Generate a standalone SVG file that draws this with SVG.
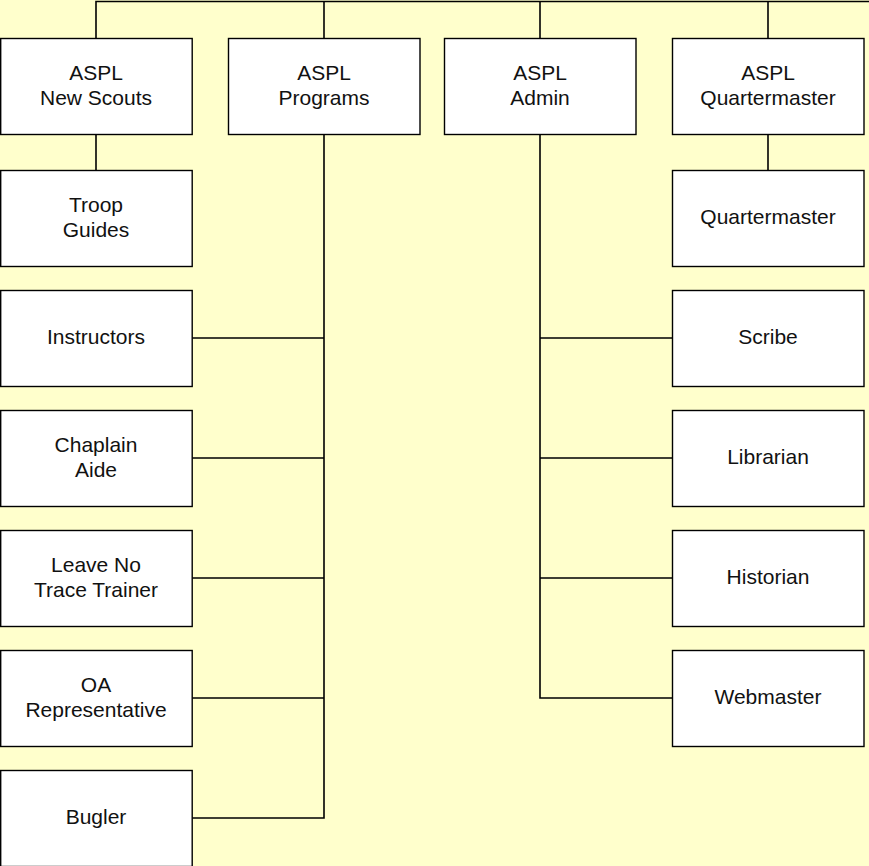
<svg xmlns="http://www.w3.org/2000/svg" width="869" height="866" viewBox="0 0 869 866">
<style>
.bg{fill:#FFFFCC}
.box{fill:#FFFFFF;stroke:#000;stroke-width:1.4}
.ln{fill:none;stroke:#000;stroke-width:1.6}
text{font-family:"Liberation Sans",Arial,sans-serif;font-size:21px;fill:#111;text-anchor:middle}
</style>
<rect class="bg" x="0" y="0" width="869" height="866"/>
<g id="connectors">
<path class="ln" d="M96,38 V1.5 H869"/>
<path class="ln" d="M324,38 V1.5"/>
<path class="ln" d="M540,38 V1.5"/>
<path class="ln" d="M768,38 V1.5"/>
<path class="ln" d="M96,134 V170"/>
<path class="ln" d="M768,134 V170"/>
<path class="ln" d="M324,134 V818 H192"/>
<path class="ln" d="M192,338 H324 M192,458 H324 M192,578 H324 M192,698 H324"/>
<path class="ln" d="M540,134 V698 H672"/>
<path class="ln" d="M540,338 H672 M540,458 H672 M540,578 H672"/>
</g>
<g id="aspl-new-scouts"><rect class="box" x="0.7" y="38.5" width="191.5" height="96"/><text x="96" y="80">ASPL</text><text x="96" y="105">New Scouts</text></g>
<g id="aspl-programs"><rect class="box" x="228.5" y="38.5" width="191.5" height="96"/><text x="324" y="80">ASPL</text><text x="324" y="105">Programs</text></g>
<g id="aspl-admin"><rect class="box" x="444.5" y="38.5" width="191.5" height="96"/><text x="540" y="80">ASPL</text><text x="540" y="105">Admin</text></g>
<g id="aspl-quartermaster"><rect class="box" x="672.5" y="38.5" width="191.5" height="96"/><text x="768" y="80">ASPL</text><text x="768" y="105">Quartermaster</text></g>
<g id="troop-guides"><rect class="box" x="0.7" y="170.5" width="191.5" height="96"/><text x="96" y="212">Troop</text><text x="96" y="237">Guides</text></g>
<g id="instructors"><rect class="box" x="0.7" y="290.5" width="191.5" height="96"/><text x="96" y="344">Instructors</text></g>
<g id="chaplain-aide"><rect class="box" x="0.7" y="410.5" width="191.5" height="96"/><text x="96" y="452">Chaplain</text><text x="96" y="477">Aide</text></g>
<g id="leave-no-trace-trainer"><rect class="box" x="0.7" y="530.5" width="191.5" height="96"/><text x="96" y="572">Leave No</text><text x="96" y="597">Trace Trainer</text></g>
<g id="oa-representative"><rect class="box" x="0.7" y="650.5" width="191.5" height="96"/><text x="96" y="692">OA</text><text x="96" y="717">Representative</text></g>
<g id="bugler"><rect class="box" x="0.7" y="770.5" width="191.5" height="96"/><text x="96" y="824">Bugler</text></g>
<g id="quartermaster"><rect class="box" x="672.5" y="170.5" width="191.5" height="96"/><text x="768" y="224">Quartermaster</text></g>
<g id="scribe"><rect class="box" x="672.5" y="290.5" width="191.5" height="96"/><text x="768" y="344">Scribe</text></g>
<g id="librarian"><rect class="box" x="672.5" y="410.5" width="191.5" height="96"/><text x="768" y="464">Librarian</text></g>
<g id="historian"><rect class="box" x="672.5" y="530.5" width="191.5" height="96"/><text x="768" y="584">Historian</text></g>
<g id="webmaster"><rect class="box" x="672.5" y="650.5" width="191.5" height="96"/><text x="768" y="704">Webmaster</text></g>
</svg>
